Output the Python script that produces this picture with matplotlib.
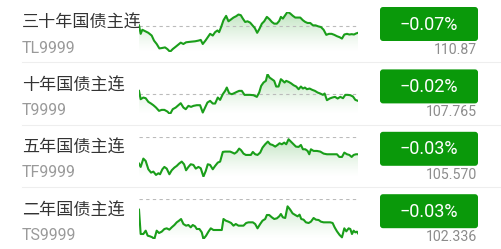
import numpy as np
import matplotlib
matplotlib.use("Agg")
import matplotlib.pyplot as plt
from matplotlib.patches import FancyBboxPatch

plt.rcParams['font.family'] = ['Noto Sans CJK SC', 'DejaVu Sans']

names = ['三十年国债主连', '十年国债主连', '五年国债主连', '二年国债主连']
codes = ['TL9999', 'T9999', 'TF9999', 'TS9999']
changes = ['\u22120.07%', '\u22120.02%', '\u22120.03%', '\u22120.03%']
prices = ['110.87', '107.765', '105.570', '102.336']

# sparkline readings (time index, depth below top of chart: bigger = lower)
tl_t = [27, 32, 37, 45, 55, 65, 72, 80, 88, 95, 105, 112, 120, 128, 137, 147, 152, 160, 168, 176,
        185, 195, 205, 212, 218, 226, 233, 240, 248, 255, 262, 267, 273, 280, 288, 295, 302, 310,
        318, 325, 332, 338, 345, 352, 360, 367, 374, 381, 388, 395, 402, 410, 418, 425, 432, 440,
        447, 452, 458, 465, 472, 480, 488, 495, 502, 510, 518, 525, 532, 540, 548, 556, 564, 572,
        580, 588, 596, 604, 612, 620, 628, 635, 642, 650, 657, 664, 671, 677, 683]
tl_v = [75, 100, 88, 92, 97, 105, 120, 130, 143, 142, 140, 145, 153, 145, 138, 130, 126, 130, 125, 124,
        123, 122, 120, 118, 130, 120, 110, 100, 105, 95, 90, 95, 80, 60, 47, 63, 58, 52,
        48, 43, 45, 55, 65, 63, 67, 75, 83, 97, 85, 70, 63, 50, 57, 65, 70, 70,
        62, 50, 55, 45, 35, 40, 47, 52, 52, 52, 60, 65, 68, 68, 75, 75, 78, 80,
        88, 103, 100, 100, 103, 107, 110, 114, 102, 100, 102, 101, 102, 99, 97]

t_t = [27, 32, 40, 47, 55, 63, 70, 78, 87, 95, 103, 112, 120, 128, 137, 145, 152, 160, 167, 175,
       183, 190, 200, 210, 218, 225, 232, 240, 248, 255, 263, 270, 278, 285, 290, 297, 305, 312,
       320, 327, 335, 343, 350, 360, 370, 380, 387, 393, 400, 407, 412, 418, 425, 432, 438, 445,
       452, 458, 463, 468, 475, 482, 490, 498, 505, 512, 518, 524, 530, 538, 546, 554, 562, 570,
       578, 583, 590, 598, 606, 614, 622, 630, 638, 645, 652, 660, 668, 675, 683]
t_v = [85, 110, 105, 107, 118, 123, 128, 135, 145, 142, 142, 147, 155, 140, 135, 128, 122, 135, 140, 130,
       133, 130, 128, 128, 150, 135, 120, 115, 123, 123, 105, 112, 95, 85, 75, 92, 95, 92,
       88, 85, 85, 97, 97, 97, 98, 103, 90, 70, 60, 55, 35, 45, 50, 55, 72, 72,
       50, 55, 60, 55, 58, 62, 68, 72, 80, 72, 78, 75, 80, 78, 82, 85, 90, 93,
       97, 93, 113, 108, 105, 103, 108, 103, 107, 97, 97, 98, 102, 112, 115]

tf_t = [27, 32, 40, 47, 55, 63, 70, 78, 85, 90, 97, 103, 110, 118, 125, 133, 140, 147, 155, 162,
        168, 175, 182, 190, 197, 205, 212, 220, 227, 233, 240, 248, 255, 263, 270, 278, 285, 292,
        300, 307, 313, 320, 327, 333, 340, 347, 355, 362, 368, 375, 382, 390, 397, 405, 413, 420,
        427, 435, 442, 448, 455, 462, 468, 475, 482, 490, 497, 505, 512, 518, 525, 532, 537, 542,
        550, 560, 570, 580, 590, 600, 610, 620, 627, 635, 642, 650, 657, 664, 670, 677, 683]
tf_v = [118, 128, 103, 110, 135, 145, 142, 152, 147, 150, 135, 128, 133, 150, 138, 130, 125, 118, 112, 120,
        138, 128, 120, 122, 133, 128, 132, 157, 140, 120, 122, 135, 125, 115, 112, 83, 82, 82,
        82, 85, 88, 83, 73, 78, 88, 92, 92, 92, 83, 90, 92, 85, 70, 60, 52, 60,
        62, 67, 62, 57, 60, 55, 60, 45, 52, 60, 67, 68, 62, 75, 75, 80, 90, 75,
        80, 80, 82, 88, 90, 90, 90, 90, 98, 98, 85, 90, 92, 98, 92, 90, 90]

ts_t = [27, 32, 40, 47, 53, 60, 67, 73, 80, 87, 95, 103, 110, 118, 125, 133, 140, 147, 153, 160,
        168, 175, 182, 188, 195, 200, 208, 215, 220, 228, 235, 242, 250, 260, 268, 275, 280, 287,
        295, 303, 310, 317, 325, 333, 340, 348, 355, 362, 368, 375, 382, 390, 397, 405, 410, 417,
        425, 432, 440, 447, 452, 458, 465, 472, 480, 487, 495, 502, 508, 513, 520, 527, 535, 542,
        550, 557, 565, 572, 580, 590, 600, 607, 613, 620, 628, 635, 642, 648, 655, 660, 665, 670,
        675, 680, 683]
ts_v = [72, 145, 145, 135, 150, 152, 155, 160, 135, 142, 138, 130, 128, 132, 125, 118, 110, 105, 100, 115,
        120, 118, 125, 118, 122, 130, 130, 140, 160, 150, 138, 128, 133, 133, 133, 133, 100, 105,
        108, 112, 120, 115, 120, 120, 120, 112, 110, 110, 110, 115, 128, 115, 105, 100, 88, 88,
        95, 100, 98, 92, 85, 95, 97, 62, 72, 83, 88, 92, 87, 100, 102, 110, 112, 108,
        97, 102, 103, 108, 110, 110, 110, 112, 125, 137, 148, 155, 128, 137, 128, 130, 145, 135,
        140, 138, 143]

# previous-close reference line, same units
refs = [77, 93, 37, 40]
series = [(tl_t, tl_v), (t_t, t_v), (tf_t, tf_v), (ts_t, ts_v)]

W, H = 501, 249
fig = plt.figure(figsize=(W / 100, H / 100), dpi=100)
fig.patch.set_facecolor('white')
bg = fig.add_axes([0, 0, 1, 1])
bg.set_xlim(0, W)
bg.set_ylim(H, 0)
bg.axis('off')

line_c = '#1a9e1a'
box_c = '#0a990a'
row_h = 62.4

cmap = matplotlib.colors.LinearSegmentedColormap.from_list('g', ['#ffffff', '#22a022'])

for i in range(4):
    y0 = i * row_h
    bg.text(22, y0 + 23, names[i], fontsize=12.3, color='#333333', va='center', ha='left')
    bg.text(22, y0 + 48, codes[i], fontsize=11.5, color='#9a9a9a', va='center', ha='left',
            family=['Roboto', 'DejaVu Sans'])
    box = FancyBboxPatch((380, y0 + 7), 98, 34, boxstyle='round,pad=0,rounding_size=3',
                         fc=box_c, ec='none')
    bg.add_patch(box)
    bg.text(429, y0 + 24.5, changes[i], fontsize=13, color='white', va='center', ha='center',
            family=['Roboto', 'DejaVu Sans'])
    bg.text(477, y0 + 50, prices[i], fontsize=10.2, color='#8c8c8c', va='center', ha='right',
            family=['Roboto', 'DejaVu Sans'])
    if i < 3:
        bg.plot([22, W], [y0 + row_h, y0 + row_h], color='#eeeeee', lw=0.8)

    t, v = series[i]
    lvl = -np.array(v, dtype=float)
    ref = -refs[i]
    lo = min(lvl.min(), ref)
    hi = max(lvl.max(), ref)
    top = y0 + 11.8
    ax = fig.add_axes([139 / W, 1 - (top + 40) / H, 219 / W, 40 / H])
    ax.set_xlim(t[0], t[-1])
    ax.set_ylim(lo, hi)
    ax.axis('off')
    img = ax.imshow(np.linspace(1, 0, 100).reshape(-1, 1) ** 1.3, cmap=cmap, vmin=0, vmax=3.4,
                    aspect='auto', extent=[t[0], t[-1], lo, hi], zorder=1)
    poly = ax.fill_between(t, lvl, lo, color='none', lw=0)
    img.set_clip_path(poly.get_paths()[0], transform=ax.transData)
    ax.axhline(ref, color='#bbbbbb', lw=0.8, ls=(0, (3, 3)), zorder=2)
    ax.plot(t, lvl, color=line_c, lw=1.5, zorder=3, solid_joinstyle='round')

fig.savefig('out.png', dpi=100, facecolor='white')
